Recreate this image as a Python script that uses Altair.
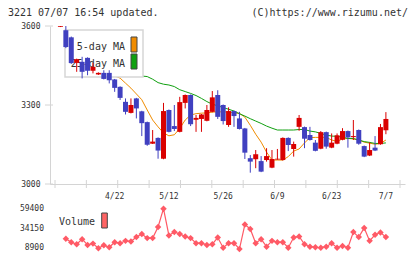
import altair as alt
import pandas as pd

FONT = "DejaVu Sans Mono"
UP = "#d90000"
DOWN = "#4040c0"
MA5_COLOR = "#f08c00"
MA25_COLOR = "#10a010"
VOL_COLOR = "#ff5a66"
AXIS = "#d4d4d4"
TEXT = "#333333"

# daily candles, trading-day index 0..60
opens = [3597, 3584, 3557, 3460, 3464, 3479, 3430, 3416, 3422, 3422,
         3397, 3369, 3312, 3270, 3325, 3276, 3235, 3153, 3175, 3096,
         3281, 3220, 3198, 3308, 3338, 3244, 3247, 3240, 3274, 3338,
         3300, 3224, 3277, 3249, 3211, 3098, 3094, 3087, 3091, 3062,
         3093, 3091, 3175, 3133, 3217, 3216, 3186, 3157, 3134, 3197,
         3138, 3153, 3168, 3201, 3178, 3205, 3144, 3108, 3138, 3151, 3204]
highs = [3600, 3600, 3560, 3476, 3483, 3481, 3460, 3424, 3432, 3432,
         3399, 3371, 3325, 3325, 3327, 3278, 3237, 3205, 3177, 3308,
         3283, 3300, 3331, 3340, 3340, 3262, 3266, 3300, 3353, 3356,
         3302, 3291, 3279, 3274, 3213, 3110, 3129, 3106, 3136, 3129,
         3133, 3177, 3177, 3161, 3262, 3218, 3217, 3167, 3201, 3199,
         3192, 3192, 3212, 3203, 3243, 3207, 3146, 3158, 3182, 3228, 3273]
lows = [3596, 3516, 3456, 3426, 3401, 3413, 3420, 3414, 3397, 3382,
        3350, 3319, 3264, 3268, 3249, 3182, 3145, 3152, 3096, 3094,
        3196, 3201, 3196, 3287, 3220, 3198, 3198, 3238, 3272, 3247,
        3226, 3217, 3217, 3207, 3095, 3043, 3060, 3045, 3085, 3060,
        3092, 3089, 3125, 3104, 3202, 3136, 3165, 3124, 3132, 3134,
        3136, 3151, 3166, 3138, 3167, 3149, 3102, 3106, 3125, 3149, 3189]
closes = [3600, 3520, 3459, 3474, 3426, 3430, 3445, 3422, 3399, 3394,
          3365, 3327, 3274, 3300, 3287, 3231, 3149, 3161, 3127, 3277,
          3198, 3209, 3311, 3338, 3227, 3251, 3264, 3281, 3329, 3255,
          3239, 3277, 3258, 3209, 3119, 3085, 3113, 3047, 3106, 3095,
          3096, 3175, 3148, 3152, 3251, 3172, 3167, 3126, 3197, 3142,
          3157, 3185, 3201, 3177, 3182, 3153, 3104, 3129, 3127, 3216, 3247]

# moving averages and volume, days 1..60
ma5 = [3510, 3500, 3490, 3478, 3462, 3448, 3436, 3426, 3418, 3410,
       3402, 3383, 3364, 3342, 3320, 3281, 3243, 3217, 3194, 3183,
       3187, 3211, 3243, 3262, 3267, 3269, 3270, 3273, 3274, 3274,
       3273, 3270, 3268, 3254, 3223, 3189, 3159, 3121, 3091, 3091,
       3091, 3104, 3125, 3133, 3156, 3176, 3177, 3177, 3177, 3167,
       3162, 3171, 3173, 3171, 3167, 3159, 3155, 3151, 3154, 3167]
ma25 = [3454, 3452, 3450, 3447, 3444, 3441, 3438, 3435, 3432, 3429,
        3425, 3421, 3417, 3413, 3410, 3408, 3398, 3385, 3379, 3376,
        3370, 3358, 3351, 3344, 3336, 3325, 3313, 3303, 3297, 3290,
        3284, 3277, 3267, 3258, 3248, 3239, 3230, 3220, 3212, 3205,
        3205, 3205, 3205, 3207, 3207, 3201, 3198, 3192, 3186, 3182,
        3181, 3178, 3173, 3173, 3167, 3161, 3158, 3154, 3154, 3156]
volume = [21100, 16750, 14130, 20670, 13220, 14920, 8900, 12820, 10210, 16750,
          15440, 18450, 17530, 23290, 27210, 21980, 21980, 36370, 59800, 25380,
          29830, 27210, 24070, 21980, 15440, 15440, 13220, 14130, 22760, 9680,
          15440, 15440, 7980, 39380, 33750, 15440, 20670, 10990, 18450, 16750,
          16750, 9680, 22760, 24070, 14130, 10990, 10210, 9680, 10990, 15440,
          9680, 11910, 9680, 29830, 23290, 35060, 18450, 26300, 29300, 23290]

date_labels = ["4/22", "5/12", "5/26", "6/9", "6/23", "7/7"]
date_days = [10, 20, 30, 40, 50, 60]
price_ticks = [3000, 3300, 3600]
volume_ticks = [59400, 34150, 8900]
x_ticks = [-1, 4.78, 10.56, 16.35, 22.13, 27.91, 33.69, 39.47, 45.25, 51.04, 56.82, 62.6]

days = list(range(len(opens)))
candles = pd.DataFrame({"day": days, "open": opens, "high": highs,
                        "low": lows, "close": closes})

ma_days = list(range(1, len(ma5) + 1))
ma5_df = pd.DataFrame({"day": ma_days, "ma": ma5})
ma25_df = pd.DataFrame({"day": ma_days, "ma": ma25})
vol_df = pd.DataFrame({"day": ma_days, "vol": volume})
one = pd.DataFrame({"k": [0]})

xs = alt.Scale(domain=[-1, 62.6], nice=False, zero=False)
ps = alt.Scale(domain=[3000, 3600], nice=False, zero=False)
vs = alt.Scale(domain=[8900, 59400], range=[222.3, 183], nice=False, zero=False)
x_axis = alt.Axis(values=x_ticks, labels=False, ticks=False, grid=False,
                  title=None, domainColor=AXIS)
p_axis = alt.Axis(values=price_ticks, ticks=False, grid=False, title=None,
                  format="d", labelFont=FONT, labelFontSize=8, labelColor=TEXT,
                  labelPadding=10, domainColor=AXIS)
candle_color = alt.condition("datum.close >= datum.open", alt.value(UP), alt.value(DOWN))


def X(field):
    return alt.X(field, scale=xs, axis=x_axis)


def P(field):
    return alt.Y(field, scale=ps, axis=p_axis)


def label(text, x, y, align="left", size=10):
    return alt.Chart(one).mark_text(font=FONT, fontSize=size, align=align, baseline="middle",
                                    color=TEXT, text=text).encode(x=alt.value(x), y=alt.value(y))


def box(x, x2, y, y2, fill, stroke="#444", width=1.0):
    return alt.Chart(one).mark_rect(fill=fill, stroke=stroke, strokeWidth=width).encode(
        x=alt.value(x), x2=alt.value(x2), y=alt.value(y), y2=alt.value(y2))


# axis tick marks crossing the axis lines
x_tick_rules = alt.Chart(pd.DataFrame({"t": x_ticks})).mark_rule(color=AXIS).encode(
    x=X("t:Q"), y=alt.value(154), y2=alt.value(162))
y_tick_rules = alt.Chart(pd.DataFrame({"p": price_ticks})).mark_rule(color=AXIS).encode(
    y=P("p:Q"), x=alt.value(-5), x2=alt.value(3))

ma5_line = alt.Chart(ma5_df).mark_line(strokeWidth=1, color=MA5_COLOR).encode(
    x=X("day:Q"), y=P("ma:Q"))
ma25_line = alt.Chart(ma25_df).mark_line(strokeWidth=1, color=MA25_COLOR).encode(
    x=X("day:Q"), y=P("ma:Q"))

legend_box = box(15, 93, 4, 51, "white", "#d6d6d6", 1.5)
legend_t1 = label("5-day MA", 75, 21, "right")
legend_t2 = label("25-day MA", 75, 38, "right")
sw1 = box(81, 87, 11, 26, MA5_COLOR)
sw2 = box(81, 87, 28, 43, MA25_COLOR)

wicks = alt.Chart(candles).mark_rule(strokeWidth=1).encode(
    x=X("day:Q"), y=P("low:Q"), y2="high:Q", color=candle_color)
bodies = alt.Chart(candles).mark_bar(size=5).encode(
    x=X("day:Q"), y=P("open:Q"), y2="close:Q", color=candle_color)

date_text = alt.Chart(pd.DataFrame({"day": date_days, "label": date_labels})).mark_text(
    font=FONT, fontSize=8, baseline="middle", color=TEXT).encode(
    x=X("day:Q"), y=alt.value(171.3), text="label:N")

title_l = label("3221 07/07 16:54 updated.", -42, -13.5)
title_r = label("(C)https://www.rizumu.net/", 358, -13.5, "right")

price = alt.layer(x_tick_rules, y_tick_rules, ma5_line, ma25_line, legend_box, legend_t1,
                  legend_t2, sw1, sw2, wicks, bodies, date_text, title_l, title_r)

vol_line = alt.Chart(vol_df).mark_line(color=VOL_COLOR, strokeWidth=1.2).encode(
    x=X("day:Q"), y=alt.Y("vol:Q", scale=vs, axis=None))
vol_pts = alt.Chart(vol_df).mark_point(shape="diamond", filled=True, size=42,
                                       color=VOL_COLOR, opacity=1).encode(
    x=X("day:Q"), y=alt.Y("vol:Q", scale=vs, axis=None))
vol_labels = alt.Chart(pd.DataFrame({"vol": volume_ticks,
                                     "label": [str(v) for v in volume_ticks]})).mark_text(
    font=FONT, fontSize=8, align="right", baseline="middle", color=TEXT).encode(
    y=alt.Y("vol:Q", scale=vs, axis=None), x=alt.value(-6), text="label:N")
vol_legend_t = label("Volume", 9, 195.7)
vol_legend_sw = box(51.7, 57.3, 187, 202, "#ff6464")

vol = alt.layer(vol_line, vol_pts, vol_labels, vol_legend_t, vol_legend_sw)

chart = alt.layer(price, vol).resolve_scale(y="independent").properties(
    width=355, height=158,
    autosize=alt.AutoSizeParams(type="none"),
    padding={"left": 50, "top": 26, "right": 15, "bottom": 75},
    background="white",
).configure_view(strokeWidth=0)

chart.save("out.html", embed_options={"renderer": "svg", "actions": False})
